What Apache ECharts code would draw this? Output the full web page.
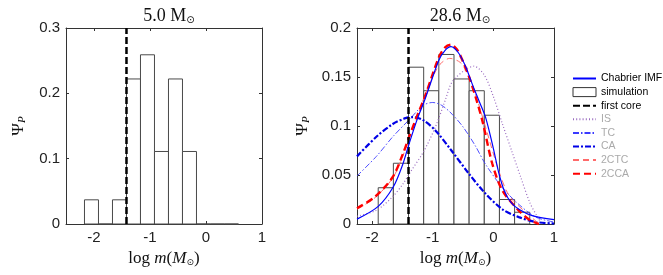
<!DOCTYPE html>
<html><head><meta charset="utf-8">
<script src="https://cdn.jsdelivr.net/npm/echarts@6/dist/echarts.min.js"></script>
<style>html,body{margin:0;padding:0;background:#fff}#c{width:663px;height:275px}</style>
</head><body><div id="c"></div>
<script>
// ---------- data ----------
const xTicks = [-2, -1, 0, 1];
const leftYTicksInterval = 0.1;
const rightYTicksInterval = 0.05;

// left panel (5.0 Msun) histogram: bin edges and fractions
const leftBinEdges = [-2.17, -1.92, -1.67, -1.42, -1.17, -0.92, -0.67, -0.42, -0.17, 0.08, 0.33, 0.58];
const leftBinValues = [0.037, 0, 0.037, 0.222, 0.259, 0.111, 0.222, 0.111, 0, 0, 0];
const leftFirstCore = -1.42;

// right panel (28.6 Msun) histogram
const rightBinEdges = [-1.90, -1.65, -1.40, -1.15, -0.90, -0.65, -0.40, -0.15, 0.10, 0.35, 0.60];
const rightBinValues = [0.037, 0.062, 0.160, 0.136, 0.173, 0.148, 0.136, 0.111, 0.025, 0.012];
const rightFirstCore = -1.40;

// model curves
const chabrierX = [-2.25,-1.9,-1.65,-1.5,-1.4,-1.25,-1.13,-0.9,-0.8,-0.7,-0.58,-0.46,-0.35,-0.24,-0.13,0.0,0.09,0.18,0.29,0.42,0.64,1.0];
const chabrierY = [0.005,0.018,0.038,0.060,0.080,0.108,0.127,0.167,0.177,0.181,0.175,0.161,0.143,0.126,0.109,0.077,0.052,0.034,0.022,0.015,0.0085,0.0044];

const isX = [-2.25,-1.93,-1.66,-1.49,-1.38,-1.15,-0.95,-0.79,-0.68,-0.45,-0.32,-0.15,0.0,0.15,0.30,0.45,0.60,0.72,0.80];
const isY = [0.008,0.014,0.028,0.041,0.052,0.074,0.100,0.127,0.145,0.158,0.161,0.152,0.130,0.102,0.075,0.048,0.022,0.008,0.0];

const tcX = [-2.25,-1.93,-1.66,-1.38,-1.16,-1.0,-0.85,-0.68,-0.5,-0.3,-0.13,0.15,0.42,0.7,1.0];
const tcY = [0.049,0.069,0.089,0.107,0.121,0.124,0.121,0.112,0.099,0.080,0.061,0.037,0.020,0.007,0.002];

const caX = [-2.25,-1.93,-1.66,-1.45,-1.33,-1.16,-0.95,-0.68,-0.40,-0.13,0.15,0.42,0.7,1.0];
const caY = [0.069,0.089,0.102,0.108,0.109,0.106,0.095,0.074,0.051,0.031,0.015,0.007,0.002,0.0005];

const ctc2X = [-2.25,-1.95,-1.66,-1.49,-1.39,-1.24,-1.15,-1.0,-0.88,-0.72,-0.55,-0.45,-0.3,-0.13,0.09,0.26,0.53,0.72,0.75];
const ctc2Y = [0.015,0.027,0.047,0.070,0.087,0.112,0.128,0.150,0.163,0.169,0.165,0.156,0.133,0.099,0.054,0.029,0.012,0.002,0.0];

const cca2X = [-2.25,-1.95,-1.66,-1.49,-1.39,-1.24,-1.13,-0.9,-0.8,-0.7,-0.6,-0.51,-0.40,-0.29,-0.18,-0.02,0.15,0.42,0.6,0.75];
const cca2Y = [0.016,0.028,0.048,0.072,0.089,0.113,0.130,0.170,0.180,0.183,0.178,0.167,0.150,0.129,0.105,0.062,0.034,0.0136,0.004,0.0];

// ---------- helpers ----------
const zip = (xs, ys) => xs.map((x, i) => [x, ys[i]]);
const bins = (edges, vals) => vals.map((v, i) => [edges[i], edges[i + 1], v]);

const AX = '#333';
const SANS = 'Liberation Sans, Arial, sans-serif';
const SERIF = 'Liberation Serif, DejaVu Serif, serif';

function renderBar(params, api) {
  const x0 = api.value(0), x1 = api.value(1), h = api.value(2);
  const p0 = api.coord([x0, h]);
  const p1 = api.coord([x1, 0]);
  return {
    type: 'rect',
    shape: { x: p0[0], y: p0[1], width: p1[0] - p0[0], height: p1[1] - p0[1] },
    style: { fill: '#fff', stroke: '#4a4a4a', lineWidth: 1 }
  };
}

const nameRich = {
  r: { fontFamily: SERIF, fontSize: 17, color: '#111' },
  i: { fontFamily: SERIF, fontSize: 17, fontStyle: 'italic', color: '#111' },
  s: { fontFamily: 'DejaVu Sans, sans-serif', fontSize: 9, color: '#111', padding: [8, 0, 0, 0] },
  ps: { fontFamily: SERIF, fontSize: 11, fontStyle: 'italic', color: '#111', padding: [8, 0, 0, 0] }
};
const xName = '{r|log }{i|m}{r|(}{i|M}{s|⊙}{r|)}';
const yName = '{r|Ψ}{ps|P}';
const titleRich = {
  n: { fontFamily: SERIF, fontSize: 18, fontWeight: 'normal', color: '#111' },
  s: { fontFamily: 'DejaVu Sans, sans-serif', fontSize: 10, fontWeight: 'normal', color: '#111', padding: [8, 0, 0, 0] }
};

function xAxes(grid, min, max) {
  return [
    { type: 'value', gridIndex: grid, position: 'bottom', min, max,
      name: xName, nameLocation: 'middle', nameGap: 25, nameTextStyle: { rich: nameRich },
      axisLine: { show: true, onZero: false, lineStyle: { color: AX } },
      axisTick: { show: true, inside: true, length: 3, customValues: xTicks, lineStyle: { color: AX } },
      axisLabel: { customValues: xTicks, color: '#222', fontSize: 15, fontFamily: SANS, margin: 6 },
      splitLine: { show: false } },
    { type: 'value', gridIndex: grid, position: 'top', min, max,
      axisLine: { show: true, onZero: false, lineStyle: { color: AX } },
      axisTick: { show: true, inside: true, length: 3, customValues: xTicks, lineStyle: { color: AX } },
      axisLabel: { show: false }, splitLine: { show: false } }
  ];
}
function yAxes(grid, max, interval, gap) {
  return [
    { type: 'value', gridIndex: grid, position: 'left', min: 0, max, interval,
      name: yName, nameLocation: 'middle', nameGap: gap, nameTextStyle: { rich: nameRich },
      axisLine: { show: true, onZero: false, lineStyle: { color: AX } },
      axisTick: { show: true, inside: true, length: 3, lineStyle: { color: AX } },
      axisLabel: { color: '#222', fontSize: 15, fontFamily: SANS, margin: 6 },
      splitLine: { show: false } },
    { type: 'value', gridIndex: grid, position: 'right', min: 0, max, interval,
      axisLine: { show: true, onZero: false, lineStyle: { color: AX } },
      axisTick: { show: true, inside: true, length: 3, lineStyle: { color: AX } },
      axisLabel: { show: false }, splitLine: { show: false } }
  ];
}

function curve(name, xs, ys, color, width, type, z) {
  return {
    name, type: 'line', xAxisIndex: 2, yAxisIndex: 2, data: zip(xs, ys),
    showSymbol: false, symbol: 'none', smooth: 0.3, z: z || 3,
    lineStyle: { color, width, type }, itemStyle: { color }
  };
}

const hideSym = { opacity: 0 };
const chart = echarts.init(document.getElementById('c'), null, { renderer: 'canvas' });
const option = {
  backgroundColor: '#fff',
  animation: false,
  title: [
    { text: '{n|5.0 M}{s|⊙}', left: 164, top: 2, textAlign: 'center', textStyle: { fontWeight: 'normal', rich: titleRich } },
    { text: '{n|28.6 M}{s|⊙}', left: 455, top: 2, textAlign: 'center', textStyle: { fontWeight: 'normal', rich: titleRich } }
  ],
  grid: [
    { left: 66, top: 28, width: 196, height: 196 },
    { left: 357, top: 28, width: 197, height: 196 }
  ],
  xAxis: [...xAxes(0, -2.5, 1), ...xAxes(1, -2.25, 1)],
  yAxis: [...yAxes(0, 0.3, leftYTicksInterval, 38), ...yAxes(1, 0.2, rightYTicksInterval, 45)],
  legend: {
    orient: 'vertical', left: 572, top: 73, padding: 0, itemWidth: 23, itemHeight: 9, itemGap: 2.6,
    textStyle: { fontSize: 10.5, fontFamily: SANS, color: '#000' },
    data: [
      { name: 'Chabrier IMF', itemStyle: hideSym, textStyle: { color: '#000' } },
      { name: 'simulation', icon: 'rect', itemStyle: { color: '#fff', borderColor: '#333', borderWidth: 1 }, textStyle: { color: '#000' } },
      { name: 'first core', itemStyle: hideSym, textStyle: { color: '#000' } },
      { name: 'IS', itemStyle: hideSym, textStyle: { color: '#aaa' } },
      { name: 'TC', itemStyle: hideSym, textStyle: { color: '#aaa' } },
      { name: 'CA', itemStyle: hideSym, textStyle: { color: '#aaa' } },
      { name: '2CTC', itemStyle: hideSym, textStyle: { color: '#aaa' } },
      { name: '2CCA', itemStyle: hideSym, textStyle: { color: '#aaa' } }
    ]
  },
  series: [
    { name: 'simulation', type: 'custom', xAxisIndex: 0, yAxisIndex: 0, renderItem: renderBar,
      encode: { x: [0, 1], y: 2 }, data: bins(leftBinEdges, leftBinValues), z: 1,
      itemStyle: { color: '#fff', borderColor: '#333' } },
    { name: 'first core', type: 'line', xAxisIndex: 0, yAxisIndex: 0, symbol: 'none', z: 4,
      data: [[leftFirstCore, 0], [leftFirstCore, 0.3]],
      lineStyle: { color: '#000', width: 2.5, type: [7, 3] }, itemStyle: { color: '#000' } },
    { name: 'simulation', type: 'custom', xAxisIndex: 2, yAxisIndex: 2, renderItem: renderBar,
      encode: { x: [0, 1], y: 2 }, data: bins(rightBinEdges, rightBinValues), z: 1,
      itemStyle: { color: '#fff', borderColor: '#333' } },
    { name: 'first core', type: 'line', xAxisIndex: 2, yAxisIndex: 2, symbol: 'none', z: 4,
      data: [[rightFirstCore, 0], [rightFirstCore, 0.2]],
      lineStyle: { color: '#000', width: 2.5, type: [7, 3] }, itemStyle: { color: '#000' } },
    curve('IS', isX, isY, '#9a6cc0', 1.2, [1, 2.2]),
    curve('TC', tcX, tcY, '#3a3aff', 0.9, [6, 2, 1.5, 2]),
    curve('CA', caX, caY, '#0000e6', 2.2, [6, 2, 2, 2]),
    curve('2CTC', ctc2X, ctc2Y, '#ff6a6a', 1.0, [6, 4]),
    curve('2CCA', cca2X, cca2Y, '#ff0000', 2.4, [7, 4]),
    curve('Chabrier IMF', chabrierX, chabrierY, '#0000ff', 1.2, 'solid', 5)
  ]
};
chart.setOption(option);
</script>
</body></html>
